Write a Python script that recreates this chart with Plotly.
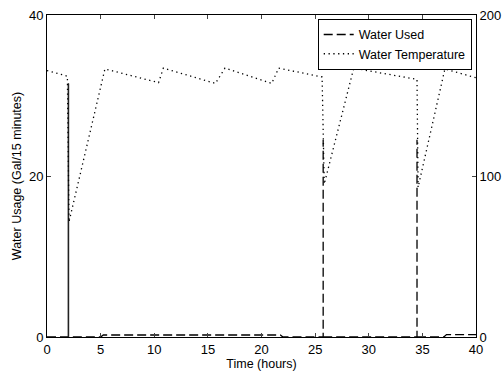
import plotly.graph_objects as go

# Water used (Gal/15 minutes), left axis  (None = pen lift)
use_t = [0, 2, 2, 2, 5, 5.25, 21.75, 22, 25.75, 25.75, None, 25.75, 34.5, 34.5, None, 34.5, 37, 37.25, 40]
use_v = [0, 0, 31.5, 0, 0, 0.25, 0.25, 0, 0, 24.5, None, 0, 0, 24.5, None, 0, 0, 0.3, 0.3]

# Water temperature, right axis
temp_t = [0, 1.9, 2.05, 5.4, 10.4, 10.85, 15.7, 16.6, 20.95, 21.6, 25.65, 25.85, 28.6, 34.5, 34.6, 37.1, 40]
temp_v = [165.5, 162, 71.5, 166.5, 158, 167, 157.5, 167, 157.5, 167, 161.5, 95, 167, 160, 93, 166.5, 161]

x_ticks = [0, 5, 10, 15, 20, 25, 30, 35, 40]
y_ticks = [0, 20, 40]
y2_ticks = [0, 100, 200]

fig = go.Figure()
fig.add_trace(go.Scatter(x=use_t, y=use_v, mode="lines", name="Water Used", connectgaps=False,
                         line=dict(color="black", width=1.3, dash="9px,4px")))
fig.add_trace(go.Scatter(x=use_t[1:4], y=use_v[1:4], mode="lines", showlegend=False,
                         line=dict(color="#222222", width=1.3)))
fig.add_trace(go.Scatter(x=temp_t, y=temp_v, mode="lines", name="Water Temperature",
                         yaxis="y2", line=dict(color="black", width=1.3, dash="1.3px,3.5px")))

fam = "Liberation Sans, Arial, sans-serif"
fig.update_layout(
    width=503, height=371,
    margin=dict(l=47, r=27, t=15, b=34, autoexpand=False),
    paper_bgcolor="white", plot_bgcolor="white",
    font=dict(family=fam, size=13, color="black"),
    showlegend=True,
    legend=dict(x=0.99, y=0.988, xanchor="right", yanchor="top",
                bordercolor="black", borderwidth=1, bgcolor="white",
                font=dict(family=fam, size=12.5, color="black"),
                tracegroupgap=0, itemwidth=30),
    xaxis=dict(range=[0, 40], tickvals=x_ticks, ticks="inside", ticklen=4,
               showline=True, linecolor="black", linewidth=1, mirror="ticks",
               showgrid=False, zeroline=False, automargin=False,
               title=dict(text="Time (hours)", standoff=0, font=dict(size=12.5))),
    yaxis=dict(range=[0, 40], tickvals=y_ticks, ticks="inside", ticklen=4,
               showline=True, linecolor="black", linewidth=1,
               showgrid=False, zeroline=False, automargin=False,
               title=dict(text="Water Usage (Gal/15 minutes)", standoff=4, font=dict(size=12.5))),
    yaxis2=dict(range=[0, 200], tickvals=y2_ticks, ticks="inside", ticklen=4,
                overlaying="y", side="right", anchor="x",
                showline=True, linecolor="black", linewidth=1,
                showgrid=False, zeroline=False, automargin=False),
)

fig.write_html("out.html", config={"displayModeBar": False},
               post_script="document.body.style.margin='0';document.body.style.overflow='hidden';")
